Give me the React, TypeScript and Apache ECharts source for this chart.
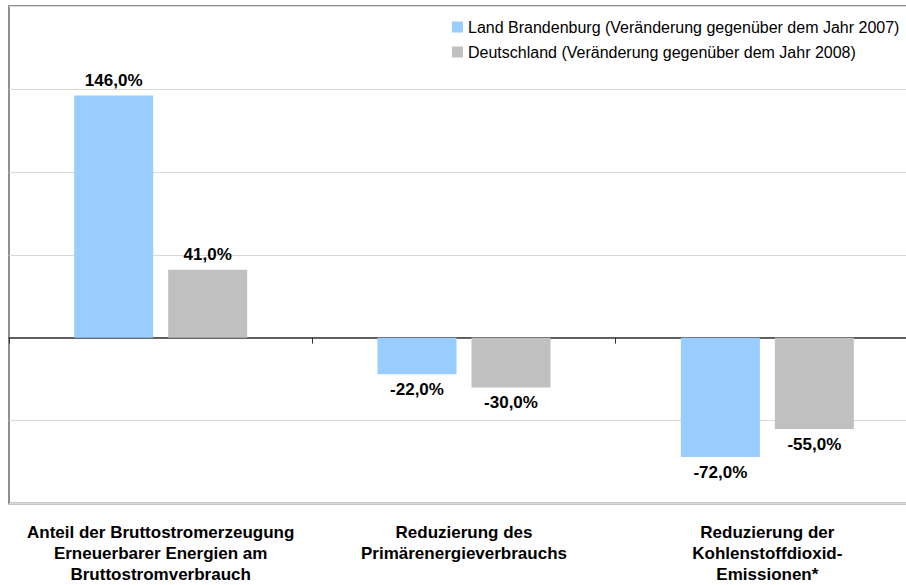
import React, { useEffect, useRef } from "react";
import * as echarts from "echarts";

const categories = [
  "Anteil der Bruttostromerzeugung\nErneuerbarer Energien am\nBruttostromverbrauch",
  "Reduzierung des\nPrimärenergieverbrauchs",
  "Reduzierung der\nKohlenstoffdioxid-\nEmissionen*",
];
const seriesNames = [
  "Land Brandenburg (Veränderung gegenüber dem Jahr 2007)",
  "Deutschland (Veränderung gegenüber dem Jahr 2008)",
];
const brandenburg = [146, -22, -72];
const deutschland = [41, -30, -55];
const colors = ["#99ccff", "#c0c0c0"];

const FONT = "'Liberation Sans', Arial, sans-serif";

function toData(values: number[]) {
  return values.map((v) => ({
    value: v,
    label: { position: v >= 0 ? "top" : "bottom" },
  }));
}

export default function App() {
  const ref = useRef<HTMLDivElement>(null);
  useEffect(() => {
    if (!ref.current) return;
    const chart = echarts.init(ref.current, undefined, { renderer: "svg" });
    const labelStyle = {
      show: true,
      fontFamily: FONT,
      fontSize: 17,
      fontWeight: "bold",
      color: "#000",
      distance: 7,
      formatter: (p: any) => p.value.toFixed(1).replace(".", ",") + "%",
    };
    chart.setOption({
      animation: false,
      backgroundColor: "#fff",
      color: colors,
      legend: {
        orient: "vertical",
        left: 447,
        top: 13,
        itemWidth: 11,
        itemHeight: 11,
        itemGap: 7,
        icon: "rect",
        textStyle: { fontFamily: FONT, fontSize: 16, lineHeight: 18, color: "#000" },
        data: seriesNames,
      },
      grid: {
        left: 9,
        top: 6,
        width: 910,
        height: 497.5,
        containLabel: false,
        outerBoundsMode: "none",
        show: true,
        borderColor: "#8f8f8f",
        borderWidth: 2,
        backgroundColor: "transparent",
      },
      xAxis: [
        {
          type: "category",
          data: categories,
          axisLine: { onZero: true, lineStyle: { color: "#333", width: 1.5 } },
          axisTick: { show: true, length: 6, lineStyle: { color: "#333", width: 1 } },
          axisLabel: { show: false },
          splitLine: { show: false },
        },
        {
          type: "category",
          data: categories,
          position: "bottom",
          axisLine: { show: false, onZero: false },
          axisTick: { show: false },
          axisLabel: {
            show: true,
            margin: 18,
            fontFamily: FONT,
            fontSize: 17,
            fontWeight: "bold",
            lineHeight: 21,
            color: "#000",
            interval: 0,
          },
        },
      ],
      yAxis: {
        type: "value",
        min: -100,
        max: 200,
        interval: 50,
        axisLine: { show: false },
        axisTick: { show: false },
        axisLabel: { show: false },
        splitLine: { show: true, lineStyle: { color: "#d9d9d9", width: 1 } },
      },
      series: [
        {
          name: seriesNames[0],
          type: "bar",
          data: toData(brandenburg),
          barWidth: 79,
          barGap: "19%",
          label: labelStyle,
        },
        {
          name: seriesNames[1],
          type: "bar",
          data: toData(deutschland),
          barWidth: 79,
          barGap: "19%",
          label: labelStyle,
        },
      ],
    });
    return () => chart.dispose();
  }, []);
  return (
    <div
      ref={ref}
      style={{ position: "fixed", left: 0, top: 0, width: 906, height: 585 }}
    />
  );
}
